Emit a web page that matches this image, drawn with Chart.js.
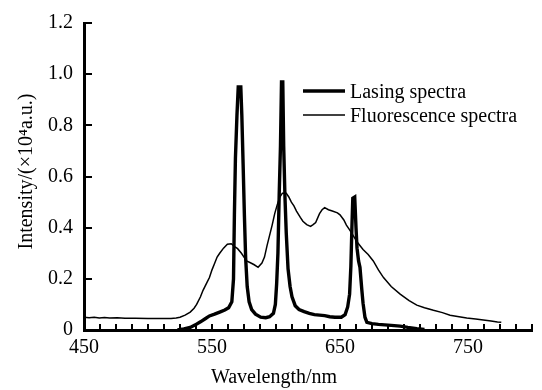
<!DOCTYPE html>
<html><head><meta charset="utf-8">
<script src="https://cdn.jsdelivr.net/npm/chart.js@4"></script>
<style>html,body{margin:0;padding:0;background:#fff}#wrap{width:542px;height:390px}</style>
</head><body><div id="wrap"><canvas id="c" width="542" height="390"></canvas></div>
<script>
const fluoWavelength = [450,454,458,462,466,470,476,482,490,500,510,518,522,525,529,533,536,538,541,543,546,548,550,552,554,556,559,562,565,568,570,573,575,577,580,583,586,589,591,593,595,597,599,601,603,605,608,610,612,614,616,619,621,624,627,629,631,634,636,638,641,644,648,650,653,655,657,659,662,664,668,672,676,680,684,690,697,704,710,716,723,730,736,743,749,756,762,768,773,776];
const fluoIntensity = [0.050,0.048,0.050,0.047,0.049,0.047,0.048,0.046,0.046,0.045,0.045,0.045,0.047,0.050,0.058,0.070,0.085,0.100,0.130,0.155,0.185,0.205,0.235,0.260,0.285,0.300,0.320,0.335,0.337,0.325,0.318,0.300,0.285,0.270,0.263,0.255,0.245,0.262,0.285,0.330,0.370,0.410,0.455,0.490,0.520,0.535,0.535,0.520,0.500,0.485,0.465,0.440,0.425,0.412,0.405,0.412,0.420,0.455,0.470,0.478,0.470,0.465,0.458,0.450,0.430,0.410,0.395,0.380,0.355,0.340,0.315,0.295,0.270,0.235,0.205,0.170,0.140,0.115,0.097,0.087,0.077,0.068,0.058,0.052,0.047,0.043,0.039,0.035,0.031,0.030];
const laserWavelength = [523,528,533,537,541,545,548,552,556,560,563,565.5,566.8,567.5,568.3,569.5,570.5,572.5,573.3,574.3,575.3,576.3,577.5,579,581,584,588,592,595,598,599.5,600.5,601.5,602.5,603.5,604.3,605.3,606,607,608,609.4,611,612.5,615,618,622,626,630,634,638,642,646,651,654,656,657.5,658.5,659.3,660,661.5,662.5,663.3,664.5,665.6,667,668,669.5,671,675,680,685,690,697,703,710,716];
const laserIntensity = [0.000,0.004,0.010,0.020,0.032,0.045,0.055,0.062,0.070,0.078,0.087,0.110,0.200,0.450,0.670,0.840,0.950,0.950,0.840,0.650,0.450,0.280,0.170,0.110,0.080,0.062,0.050,0.048,0.052,0.065,0.100,0.180,0.300,0.530,0.720,0.970,0.970,0.720,0.520,0.380,0.240,0.170,0.130,0.095,0.080,0.072,0.065,0.060,0.058,0.056,0.052,0.050,0.050,0.060,0.090,0.140,0.250,0.400,0.515,0.520,0.400,0.320,0.270,0.245,0.160,0.105,0.050,0.030,0.025,0.022,0.020,0.018,0.015,0.010,0.005,0.002];
const seriesNames = ['Lasing spectra', 'Fluorescence spectra'];
const xTickLabels = [450, 550, 650, 750];
const xMinorStep = 12.5;
const yTickLabels = ['0', '0.2', '0.4', '0.6', '0.8', '1.0', '1.2'];
const xAxisTitle = 'Wavelength/nm';
const yAxisTitle = 'Intensity/(×10⁴a.u.)';

const FONT = "'Liberation Serif', 'Times New Roman', serif";
const toPts = (xs, ys) => xs.map((x, i) => ({x: x, y: ys[i]}));

const decor = {
  id: 'decor',
  afterDraw(chart) {
    const ctx = chart.ctx, ca = chart.chartArea;
    const xs = chart.scales.x, ys = chart.scales.y;
    ctx.save();
    ctx.strokeStyle = '#000';
    ctx.lineWidth = 2;
    ctx.beginPath();
    xs.ticks.forEach(t => {
      const px = Math.round(xs.getPixelForValue(t.value));
      ctx.moveTo(px, ca.bottom); ctx.lineTo(px, ca.bottom - 6);
    });
    ys.ticks.forEach(t => {
      const py = Math.round(ys.getPixelForValue(t.value));
      ctx.moveTo(ca.left, py); ctx.lineTo(ca.left + 8, py);
    });
    ctx.stroke();
    // legend
    ctx.fillStyle = '#000';
    ctx.font = '20px ' + FONT;
    ctx.textBaseline = 'alphabetic';
    ctx.textAlign = 'left';
    chart.data.datasets.forEach((ds, i) => {
      const ly = ca.top + 68 + i * 24;
      ctx.lineWidth = ds.borderWidth;
      ctx.beginPath();
      ctx.moveTo(ca.left + 219, ly); ctx.lineTo(ca.left + 261, ly);
      ctx.stroke();
      ctx.fillText(ds.label, ca.left + 266, ly + 7);
    });
    // axis titles
    ctx.textAlign = 'center';
    ctx.fillText(xAxisTitle, ca.left + 190, 383);
    ctx.save();
    ctx.translate(32, (ca.top + ca.bottom) / 2 - 5);
    ctx.rotate(-Math.PI / 2);
    ctx.fillText(yAxisTitle, 0, 0);
    ctx.restore();
    ctx.restore();
  }
};

new Chart(document.getElementById('c'), {
  type: 'line',
  data: {
    datasets: [
      {label: seriesNames[0], data: toPts(laserWavelength, laserIntensity), borderColor: '#000', borderWidth: 3.4, pointRadius: 0, tension: 0, fill: false},
      {label: seriesNames[1], data: toPts(fluoWavelength, fluoIntensity), borderColor: '#000', borderWidth: 1.5, pointRadius: 0, tension: 0, fill: false}
    ]
  },
  options: {
    responsive: false,
    animation: false,
    devicePixelRatio: 1,
    layout: {padding: {top: 20, right: 10, left: 0, bottom: 0}},
    plugins: {legend: {display: false}, tooltip: {enabled: false}},
    scales: {
      x: {
        type: 'linear', min: 450, max: 800,
        afterFit(s) { s.height = 60; },
        afterBuildTicks(s) {
          const t = [];
          for (let v = s.min; v <= s.max + 1e-9; v += xMinorStep) t.push({value: v});
          s.ticks = t;
        },
        grid: {display: false, drawTicks: false},
        border: {display: true, color: '#000', width: 3},
        ticks: {
          autoSkip: false, maxRotation: 0, padding: 6, color: '#000',
          font: {family: FONT, size: 20},
          callback: v => xTickLabels.includes(v) ? String(v) : ''
        }
      },
      y: {
        min: 0, max: 1.2,
        afterFit(s) { s.width = 84; },
        grid: {display: false, drawTicks: false},
        border: {display: true, color: '#000', width: 3},
        ticks: {
          stepSize: 0.2, padding: 11, color: '#000',
          font: {family: FONT, size: 20},
          callback: (v, i) => yTickLabels[i]
        }
      }
    }
  },
  plugins: [decor]
});
</script>
</body></html>
